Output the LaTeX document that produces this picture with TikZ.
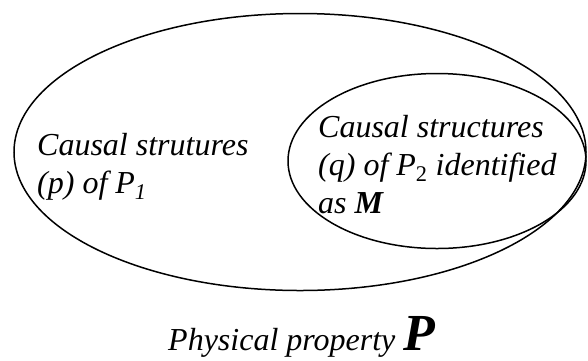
\documentclass[tikz,border=0pt]{standalone}
\usepackage{fontspec}
\setmainfont{Liberation Serif}[
  UprightFont=*, BoldFont=* Bold,
  ItalicFont=* Italic, BoldItalicFont=* Bold Italic]
\usetikzlibrary{positioning, shapes.geometric}

\begin{document}
\begin{tikzpicture}[x=1pt, y=-1pt,
    set/.style={draw, ellipse, line width=1.5pt, inner sep=0pt},
    lbl/.style={align=left, inner sep=0pt, anchor=north west,
      font=\fontsize{32}{38}\selectfont\itshape}]
        \useasboundingbox (0,0) rectangle (588,360);
        \node (phys) [set, minimum width=572pt, minimum height=277pt] at (300,152) {};
        \node (ment) [set, minimum width=298pt, minimum height=175pt] at (437,161) {};
        \node (pone) [lbl] at (37,133) {Causal strutures\\(p) of P\textsubscript{1}};
        \node (ptwo) [lbl] at (318,115) {Causal structures\\(q) of P\textsubscript{\upshape 2} identified\\as \textbf{M}};
        \node (prop) [inner sep=0pt, anchor=base west, font=\fontsize{32}{38}\selectfont\itshape]
          at (168,350) {Physical property \textbf{\fontsize{52}{56}\selectfont P}};
    \end{tikzpicture}
\end{document}
